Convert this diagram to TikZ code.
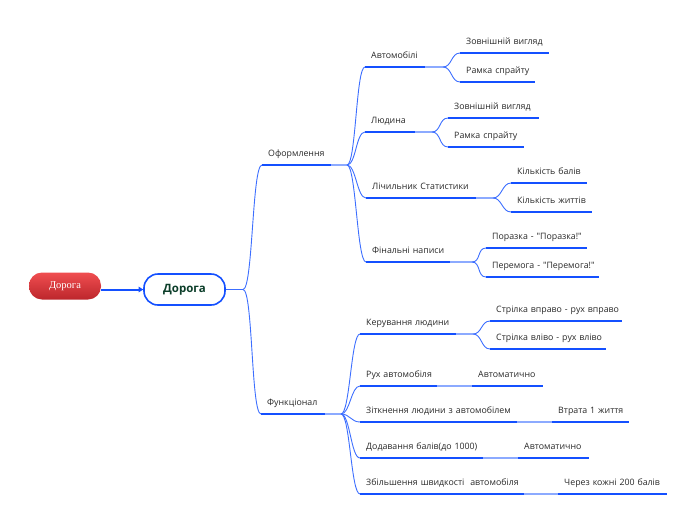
\documentclass[tikz,border=0pt]{standalone}
\usepackage{fontspec}
\setmainfont{Open Sans}[Ligatures=TeXOff]
\newfontfamily\serifroot{Liberation Serif}
\usetikzlibrary{arrows.meta}
\definecolor{lineblue}{RGB}{20,80,255}
\definecolor{lightblue}{RGB}{140,170,255}
\definecolor{curveblue}{RGB}{60,110,255}
\definecolor{txt}{RGB}{40,40,40}
\definecolor{rootgreen}{RGB}{12,62,42}
\definecolor{redtop}{RGB}{240,78,80}
\definecolor{redbot}{RGB}{188,38,44}
\tikzset{
  topic/.style={anchor=south west, inner xsep=6pt, inner ysep=0pt, text height=7pt, text depth=8pt,
    align=left, font=\fontsize{8.8}{10}\selectfont, text=txt},
  uline/.style={draw=lineblue, line width=2.6pt},
  ext/.style={draw=lightblue, line width=1.6pt},
  curve/.style={draw=curveblue, line width=0.9pt},
  link/.style={curve, out=0, in=180, distance=9pt},
  rootarrow/.style={color=lineblue, line width=2pt, -{Triangle[length=4.5pt,width=5.5pt]}},
}
\newcommand\tp[5]{\pgfmathsetmacro\tpw{#3-#2}\pgfmathsetmacro\tpt{#3-#2-12}%
  \node[topic, minimum width=\tpw pt, text width=\tpt pt] (#1) at (#2,#4) {\mbox{#5}};%
  \draw[uline] (#1.south west) -- (#1.south east);}
\begin{document}
\begin{tikzpicture}[x=1pt,y=-1pt]
\useasboundingbox (0,0) rectangle (696,520);
% root nodes
\node[draw=none, rounded corners=13pt, top color=redtop, bottom color=redbot, minimum width=72pt,
  minimum height=27pt, inner sep=0pt, text=white, font=\serifroot\fontsize{10.5}{12}\selectfont] (red) at (65,286) {Дорога};
\node[draw=lineblue, line width=1.6pt, fill=white, rounded corners=14pt, minimum width=81pt,
  minimum height=31pt, inner sep=0pt, text=rootgreen, font=\fontsize{11.5}{13}\bfseries] (main) at (184.5,289.5) {Дорога};

% branch coordinates
\coordinate (b0) at (243,289.5);
\coordinate (bO) at (347,165);
\coordinate (bF) at (341,414);
\coordinate (bA1) at (443,67);
\coordinate (bA2) at (432,132);
\coordinate (bA3) at (493,198);
\coordinate (bA4) at (472,262);
\coordinate (bF1) at (473,334);

% level 1
\tp{o}{262}{331}{165}{Оформлення}
\tp{f}{261}{325}{414}{Функціонал}
\draw[curve] (main.east) -- (b0);
\draw[link, distance=10pt] (b0) to (o.south west);
\draw[link, distance=10pt] (b0) to (f.south west);
\draw[ext] (o.south east) -- (bO);
\draw[ext] (f.south east) -- (bF);

% level 2: Оформлення
\tp{a1}{365}{425}{67}{Автомобілі}
\tp{a2}{365}{415}{132}{Людина}
\tp{a3}{366}{476}{198}{Лічильник Статистики}
\tp{a4}{366}{450}{262}{Фінальні написи}
\foreach \n in {a1,a2,a3,a4} {\draw[link] (bO) to (\n.south west);}
\draw[ext] (a1.south east) -- (bA1);
\draw[ext] (a2.south east) -- (bA2);
\draw[ext] (a3.south east) -- (bA3);
\draw[ext] (a4.south east) -- (bA4);

% level 3
\tp{a1a}{460}{549}{53}{Зовнішній вигляд}
\tp{a1b}{460}{535}{82}{Рамка спрайту}
\tp{a2a}{448}{539}{118}{Зовнішній вигляд}
\tp{a2b}{448}{524}{147}{Рамка спрайту}
\tp{a3a}{511}{587}{183}{Кількість балів}
\tp{a3b}{511}{592}{212}{Кількість життів}
\tp{a4a}{486}{587}{248}{Поразка - "Поразка!"}
\tp{a4b}{486}{599}{277}{Перемога - "Перемога!"}
\draw[link] (bA1) to (a1a.south west);
\draw[link] (bA1) to (a1b.south west);
\draw[link] (bA2) to (a2a.south west);
\draw[link] (bA2) to (a2b.south west);
\draw[link] (bA3) to (a3a.south west);
\draw[link] (bA3) to (a3b.south west);
\draw[link] (bA4) to (a4a.south west);
\draw[link] (bA4) to (a4b.south west);

% level 2: Функціонал
\tp{f1}{360}{456}{334}{Керування людини}
\tp{f2}{360}{437}{386}{Рух автомобіля}
\tp{f3}{360}{517}{422}{Зіткнення людини з автомобілем}
\tp{f4}{360}{483}{458}{Додавання балів(до 1000)}
\tp{f5}{360}{524}{494}{Збільшення швидкості~ автомобіля}
\foreach \n in {f1,f2,f3,f4,f5} {\draw[link] (bF) to (\n.south west);}
\draw[ext] (f1.south east) -- (bF1);

\tp{f1a}{490}{622}{321}{Стрілка вправо - рух вправо}
\tp{f1b}{490}{606}{349}{Стрілка вліво - рух вліво}
\draw[link] (bF1) to (f1a.south west);
\draw[link] (bF1) to (f1b.south west);

\tp{f2a}{472}{543}{386}{Автоматично}
\tp{f3a}{552}{629}{422}{Втрата 1 життя}
\tp{f4a}{518}{589}{458}{Автоматично}
\tp{f5a}{558}{667}{494}{Через кожні 200 балів}
\draw[ext] (f2.south east) -- (f2a.south west);
\draw[ext] (f3.south east) -- (f3a.south west);
\draw[ext] (f4.south east) -- (f4a.south west);
\draw[ext] (f5.south east) -- (f5a.south west);

% root connector
\draw[rootarrow] (red.east |- main.west) -- (main.west);
\end{tikzpicture}
\end{document}
